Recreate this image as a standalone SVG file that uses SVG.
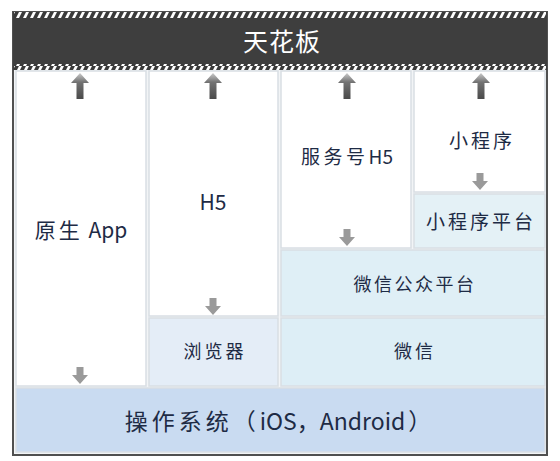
<svg xmlns="http://www.w3.org/2000/svg" width="560" height="461" viewBox="0 0 560 461">
<defs>
<pattern id="hatch" width="7" height="6" patternUnits="userSpaceOnUse">
<rect width="7" height="6" fill="#3a3a3a"/>
<path d="M2 6 L5 0 L8 0 L5 6 Z" fill="#ffffff"/>
<path d="M-5 6 L-2 0 L1 0 L-2 6 Z" fill="#ffffff"/>
</pattern>
<linearGradient id="upg" x1="0" y1="0" x2="0" y2="1">
<stop offset="0" stop-color="#cccccc"/>
<stop offset="0.35" stop-color="#737373"/>
<stop offset="1" stop-color="#4a4a4a"/>
</linearGradient>
<symbol id="up" viewBox="0 0 18 26" overflow="visible">
<path d="M9 0 L18 10 L12.5 10 L12.5 26 L5.5 26 L5.5 10 L0 10 Z" fill="url(#upg)"/>
</symbol>
<symbol id="down" viewBox="0 0 16 17" overflow="visible">
<path d="M4.5 0 L11.5 0 L11.5 8 L16 8 L8 17 L0 8 L4.5 8 Z" fill="#9a9a9a"/>
</symbol>
</defs>
<style>
.box{stroke:#d9dee4;stroke-width:1.5}
.w{fill:#ffffff}
.cn{font-family:"Noto Sans CJK SC","Noto Sans",sans-serif;fill:#1e2b45;text-anchor:middle}
</style>
<rect x="0" y="0" width="560" height="461" fill="#ffffff"/>
<g id="frame">
<rect x="13" y="12" width="534" height="443" fill="#f2f4f6" stroke="#505050" stroke-width="2"/>
</g>
<g id="ceiling">
<rect x="13" y="12" width="534" height="58" fill="#3e3e3e"/>
<rect x="14" y="12" width="532" height="6" fill="url(#hatch)"/>
<rect x="14" y="64" width="532" height="6" fill="url(#hatch)"/>
<text x="282" y="51" class="cn" font-size="25" letter-spacing="1" style="fill:#ffffff">天花板</text>
</g>
<g id="native">
<rect x="16" y="71" width="130" height="315" class="box w"/>
<text x="81" y="238" class="cn" font-size="21"><tspan letter-spacing="3">原</tspan>生 <tspan dx="4">App</tspan></text>
</g>
<g id="h5">
<rect x="149" y="71" width="129" height="245" class="box w"/>
<text x="213" y="210" class="cn" font-size="21">H5</text>
</g>
<g id="service-h5">
<rect x="281" y="71" width="130" height="177" class="box w"/>
<text x="347" y="164" class="cn" font-size="19"><tspan letter-spacing="3.5">服务号</tspan>H5</text>
</g>
<g id="miniprogram">
<rect x="414" y="71" width="131" height="121" class="box w"/>
<text x="482" y="148" class="cn" font-size="19" letter-spacing="3">小程序</text>
</g>
<g id="mini-platform">
<rect x="414" y="194" width="131" height="54" class="box" fill="#e4f1f6"/>
<text x="481" y="229" class="cn" font-size="19" letter-spacing="3">小程序平台</text>
</g>
<g id="mp-platform">
<rect x="281" y="250" width="264" height="66" class="box" fill="#dfeff6"/>
<text x="415" y="291" class="cn" font-size="18" letter-spacing="2.5">微信公众平台</text>
</g>
<g id="browser">
<rect x="149" y="318" width="129" height="68" class="box" fill="#e4edf7"/>
<text x="215" y="358" class="cn" font-size="18" letter-spacing="3">浏览器</text>
</g>
<g id="wechat">
<rect x="281" y="318" width="264" height="68" class="box" fill="#ddeef6"/>
<text x="415" y="358" class="cn" font-size="18" letter-spacing="3">微信</text>
</g>
<g id="os">
<rect x="16" y="388" width="529" height="64" class="box" fill="#c9dbf1"/>
<text x="278" y="430" class="cn" font-size="23"><tspan letter-spacing="4">操作系统（</tspan>iOS，Android<tspan dx="3">）</tspan></text>
</g>
<g id="connectors">
<use href="#up" x="71" y="73" width="18" height="26"/>
<use href="#up" x="204" y="73" width="18" height="26"/>
<use href="#up" x="338" y="73" width="18" height="26"/>
<use href="#up" x="472" y="73" width="18" height="26"/>
<use href="#down" x="72" y="367" width="16" height="17"/>
<use href="#down" x="205" y="298" width="16" height="17"/>
<use href="#down" x="339" y="229" width="16" height="17"/>
<use href="#down" x="472" y="173" width="16" height="17"/>
</g>
</svg>
